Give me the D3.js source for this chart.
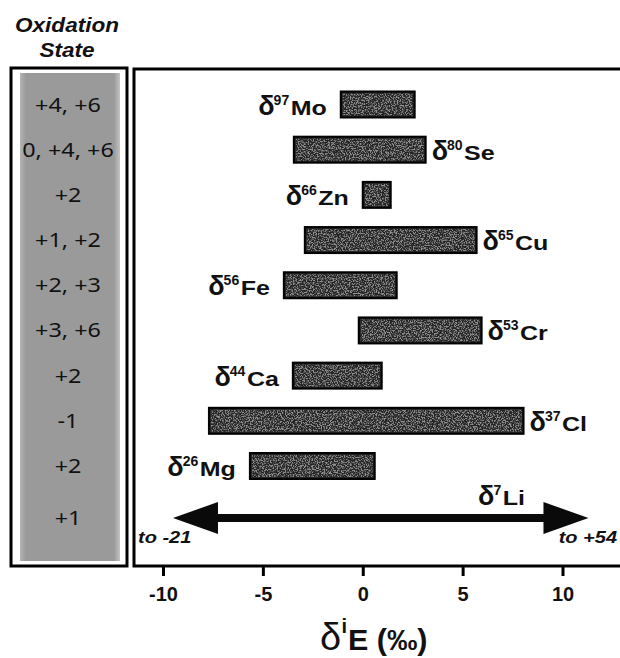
<!DOCTYPE html>
<html><head><meta charset="utf-8">
<script src="https://cdn.jsdelivr.net/npm/d3@7"></script>
<style>
html,body{margin:0;padding:0;background:#fff;}
svg{display:block;}
</style></head>
<body>
<svg id="chart" width="620" height="658"></svg>
<script>
// ---- data ----
const elements   = ["Mo","Se","Zn","Cu","Fe","Cr","Ca","Cl","Mg"];
const masses     = ["97","80","66","65","56","53","44","37","26"];
const lowValues  = [-1.1,-3.45,0.0,-2.9,-3.95,-0.2,-3.5,-7.7,-5.65];
const highValues = [2.6, 3.15,1.4, 5.7, 1.7, 5.95,0.95,8.05,0.6];
const oxidation  = ["+4, +6","0, +4, +6","+2","+1, +2","+2, +3","+3, +6","+2","-1","+2"];
const liElement = "Li", liMass = "7", liOxidation = "+1";
const liRange = [-21, 54];          // true range of δ7Li
const liVisible = [-9.5, 11.3];     // visible extent of the arrow on the axis
const tickValues = [-10,-5,0,5,10];

// ---- layout ----
const labelSide = ["L","R","L","R","L","R","L","R","L"];
const svg = d3.select("#chart");
const x = d3.scaleLinear().domain([-10,10]).range([163, 562.5]);
const y = d3.scalePoint().domain(elements).range([104.5, 466]);
const yLi = 518;
const barH = 26;
const frameTop = 69, frameBottom = 566, frameLeft = 134;

const defs = svg.append("defs");
const f = defs.append("filter").attr("id","speckle")
  .attr("x",0).attr("y",0).attr("width",1).attr("height",1);
f.append("feTurbulence").attr("type","fractalNoise").attr("baseFrequency",0.75)
  .attr("numOctaves",2).attr("seed",7).attr("result","noise");
f.append("feColorMatrix").attr("in","noise").attr("type","matrix")
  .attr("values","0 0 0 0 1  0 0 0 0 1  0 0 0 0 1  5 0 0 0 -2.2").attr("result","dots");
f.append("feComposite").attr("in","dots").attr("in2","SourceGraphic").attr("operator","in");

const grad = defs.append("linearGradient").attr("id","panelGrad").attr("x1",0).attr("x2",1);
grad.append("stop").attr("offset","0%").attr("stop-color","#b4b4b4");
grad.append("stop").attr("offset","6%").attr("stop-color","#9a9a9a");
grad.append("stop").attr("offset","94%").attr("stop-color","#9a9a9a");
grad.append("stop").attr("offset","100%").attr("stop-color","#c4c4c4");

// ---- left panel: oxidation states ----
svg.append("rect").attr("x",11).attr("y",68).attr("width",116).attr("height",498)
  .attr("fill","#fff").attr("stroke","#000").attr("stroke-width",3);
svg.append("rect").attr("x",20).attr("y",73).attr("width",100).attr("height",488)
  .attr("fill","url(#panelGrad)");

function stretched(parent, tx, ty, text, opts){
  const g = parent.append("g").attr("transform",`translate(${tx},${ty}) scale(${opts.sx||1},1)`);
  const t = g.append("text").attr("x",0).attr("y",0)
    .attr("text-anchor",opts.anchor||"start")
    .attr("font-family",opts.family||"'Liberation Sans', Arial, sans-serif")
    .attr("font-size",opts.size).attr("font-weight",opts.weight||"normal")
    .attr("font-style",opts.style||"normal").attr("fill","#111").text(text);
  return t;
}

stretched(svg, 67, 32, "Oxidation", {size:20.5, weight:"bold", style:"italic", anchor:"middle", sx:1.1});
stretched(svg, 67, 57, "State", {size:20.5, weight:"bold", style:"italic", anchor:"middle", sx:1.1});

const oxG = svg.append("g");
oxidation.forEach((s,i)=>{
  stretched(oxG, 68, y(elements[i])+7, s, {size:20, family:"'Noto Sans', sans-serif", anchor:"middle", sx:1.17});
});
stretched(oxG, 68, yLi+7, liOxidation, {size:20, family:"'Noto Sans', sans-serif", anchor:"middle", sx:1.17});

// ---- main frame ----
svg.append("path")
  .attr("d",`M640,${frameTop} H${frameLeft} V${frameBottom} H640`)
  .attr("fill","none").attr("stroke","#000").attr("stroke-width",3);

// ---- bars ----
const bars = svg.append("g");
elements.forEach((e,i)=>{
  const x0 = x(lowValues[i]), x1 = x(highValues[i]);
  const yy = y(e) - barH/2;
  bars.append("rect").attr("x",x0).attr("y",yy).attr("width",x1-x0).attr("height",barH)
    .attr("fill","#222").attr("stroke","#000").attr("stroke-width",2);
  bars.append("rect").attr("x",x0+2).attr("y",yy+2).attr("width",x1-x0-4).attr("height",barH-4)
    .attr("fill","#fff").attr("filter","url(#speckle)").attr("opacity",0.5);
});

// ---- isotope labels ----
function isoLabel(parent, mass, el, ax, base, side, gap){
  const g = parent.append("g");
  const d = g.append("text").attr("x",0).attr("y",0)
    .attr("font-family","'Liberation Sans', Arial, sans-serif").attr("font-size",27)
    .attr("font-weight","bold").attr("fill","#111").text("δ");
  const w1 = d.node().getComputedTextLength() - 1;
  const s = g.append("text").attr("x",w1).attr("y",-10)
    .attr("font-family","'Liberation Sans', Arial, sans-serif").attr("font-size",14)
    .attr("font-weight","bold").attr("fill","#111").text(mass);
  const w2 = s.node().getComputedTextLength() + 1.5;
  const sx = 1.25;
  const eg = g.append("g").attr("transform",`translate(${w1+w2},0) scale(${sx},1)`);
  const et = eg.append("text").attr("x",0).attr("y",0)
    .attr("font-family","'Liberation Sans', Arial, sans-serif").attr("font-size",20)
    .attr("font-weight","bold").attr("fill","#111").text(el);
  const total = w1 + w2 + et.node().getComputedTextLength()*sx;
  const tx = side === "L" ? ax - gap - total : ax + gap;
  g.attr("transform",`translate(${tx},${base})`);
}
const labels = svg.append("g");
elements.forEach((e,i)=>{
  const side = labelSide[i];
  const ax = side === "L" ? x(lowValues[i]) : x(highValues[i]);
  isoLabel(labels, masses[i], e, ax, y(e)+10, side, side === "L" ? 14 : 6);
});

// ---- Li arrow ----
const lx0 = x(Math.max(liRange[0], liVisible[0])), lx1 = x(Math.min(liRange[1], liVisible[1]));
const headL = 45, headH = 16, shaft = 4;
svg.append("path")
  .attr("d",`M${lx0},${yLi} L${lx0+headL},${yLi-headH} L${lx0+headL},${yLi-shaft} L${lx1-headL},${yLi-shaft}
             L${lx1-headL},${yLi-headH} L${lx1},${yLi} L${lx1-headL},${yLi+headH} L${lx1-headL},${yLi+shaft}
             L${lx0+headL},${yLi+shaft} L${lx0+headL},${yLi+headH} Z`)
  .attr("fill","#0a0a0a");
isoLabel(svg, liMass, liElement, 478, 505, "R", 0);
stretched(svg, 138, 543, "to " + liRange[0], {size:16, weight:"bold", style:"italic", sx:1.25});
stretched(svg, 617, 543, "to +" + liRange[1], {size:16, weight:"bold", style:"italic", sx:1.25, anchor:"end"});

// ---- x axis ----
const axis = d3.axisBottom(x).tickValues(tickValues).tickSize(10).tickPadding(11)
  .tickFormat(d => String(d));
const ax = svg.append("g").attr("transform",`translate(0,${frameBottom})`).call(axis);
ax.select(".domain").remove();
ax.selectAll(".tick line").attr("stroke","#000").attr("stroke-width",3);
ax.selectAll(".tick text").attr("font-family","'Liberation Sans', Arial, sans-serif")
  .attr("font-size",20).attr("font-weight","bold").attr("fill","#111");

// ---- axis title ----
const tg = svg.append("g").attr("transform","translate(320,650)");
tg.append("text").attr("x",0).attr("y",0).attr("font-family","'Liberation Sans', Arial, sans-serif")
  .attr("font-size",38).attr("fill","#111").text("δ");
tg.append("text").attr("x",21.5).attr("y",-17).attr("font-family","'Liberation Sans', Arial, sans-serif")
  .attr("font-size",20).attr("font-weight","bold").attr("fill","#111").text("i");
tg.append("g").attr("transform","translate(28,0) scale(1.05,1)").append("text")
  .attr("font-family","'Liberation Sans', Arial, sans-serif").attr("font-size",29)
  .attr("font-weight","bold").attr("fill","#111").text("E (‰)");
</script>
</body></html>
